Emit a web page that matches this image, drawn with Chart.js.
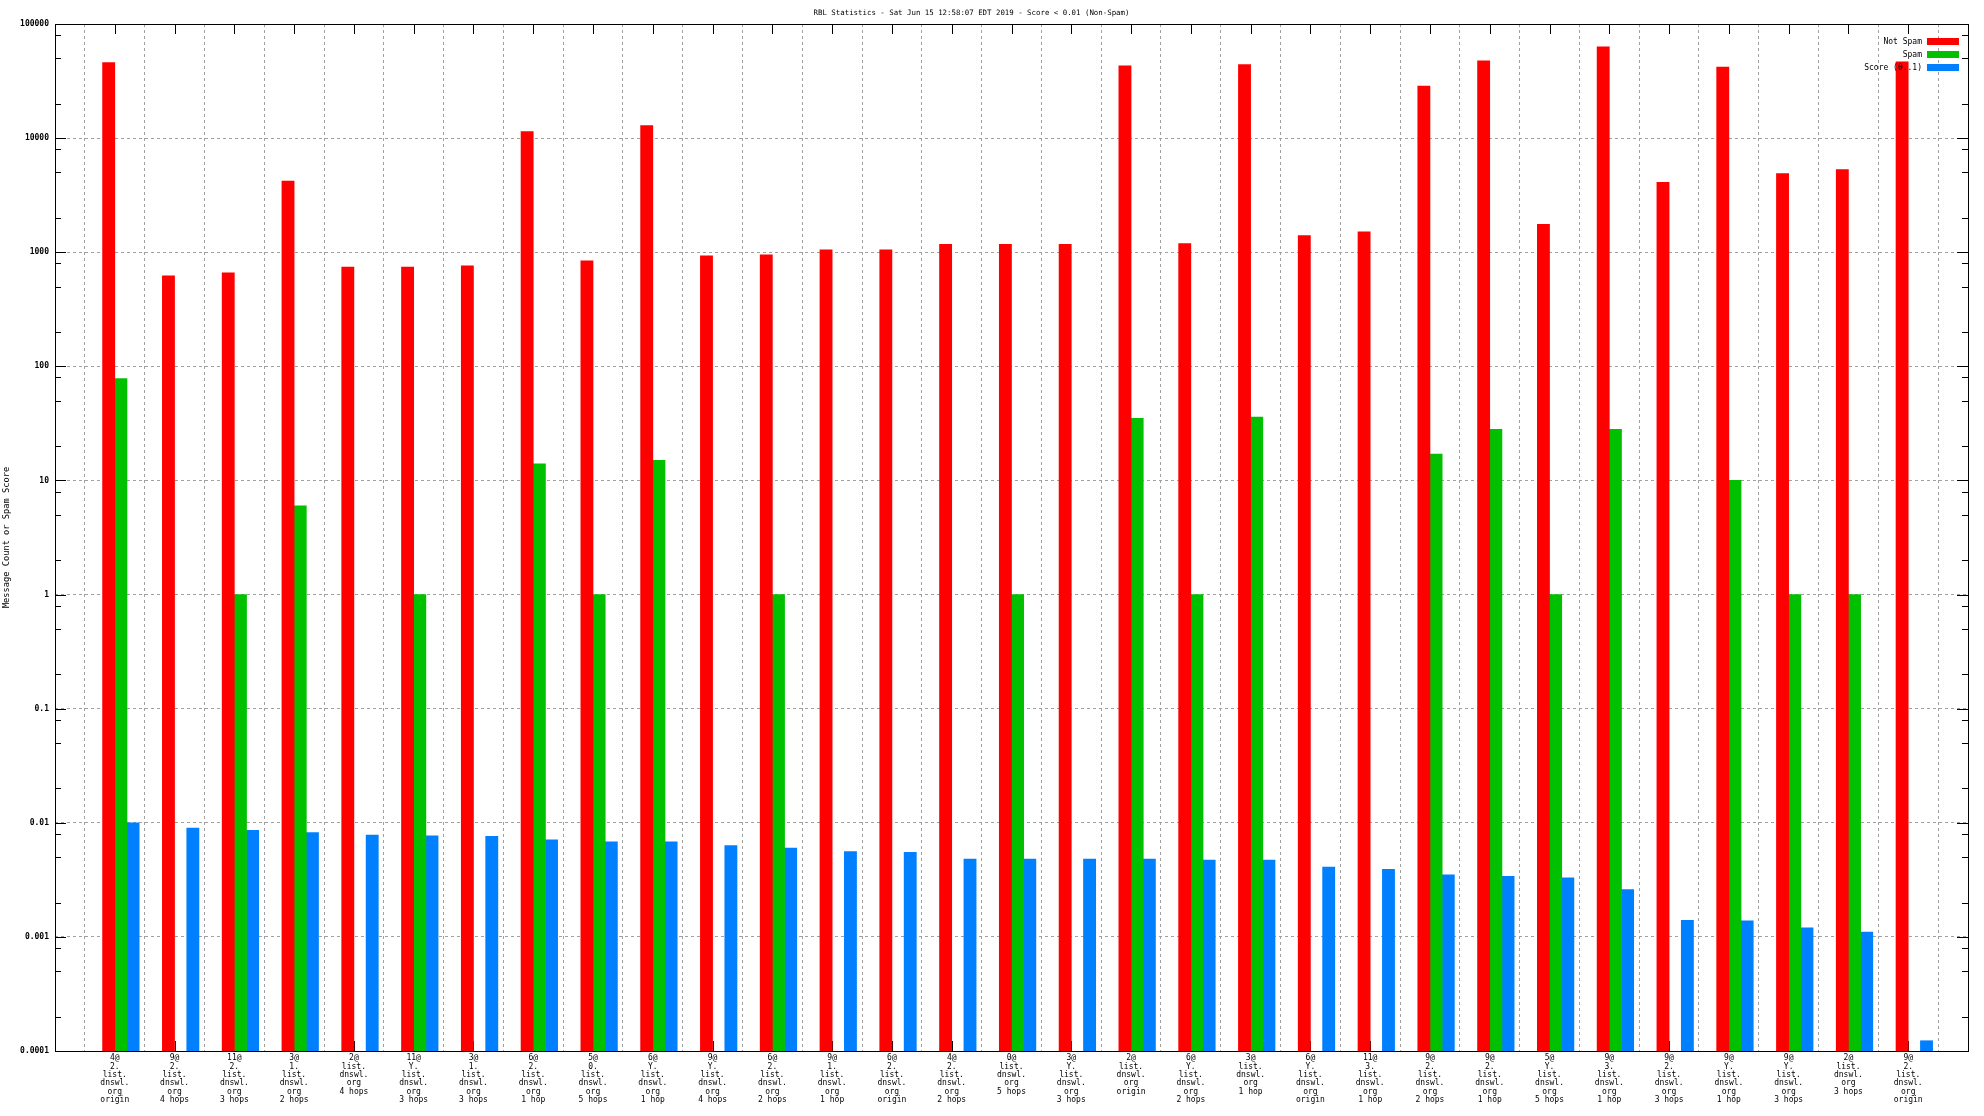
<!DOCTYPE html>
<html><head><meta charset="utf-8">
<script src="https://cdn.jsdelivr.net/npm/chart.js@4.4.1/dist/chart.umd.min.js"></script>
<style>html,body{margin:0;padding:0;background:#fff}canvas{display:block}</style>
</head><body>
<canvas id="c" width="1984" height="1116"></canvas>
<script>
// ---------- data ----------
const sources = ["4@2.list.dnswl.org","9@2.list.dnswl.org","11@2.list.dnswl.org","3@1.list.dnswl.org","2@list.dnswl.org","11@Y.list.dnswl.org","3@1.list.dnswl.org","6@2.list.dnswl.org","5@0.list.dnswl.org","6@Y.list.dnswl.org","9@Y.list.dnswl.org","6@2.list.dnswl.org","9@1.list.dnswl.org","6@2.list.dnswl.org","4@2.list.dnswl.org","0@list.dnswl.org","3@Y.list.dnswl.org","2@list.dnswl.org","6@Y.list.dnswl.org","3@list.dnswl.org","6@Y.list.dnswl.org","11@3.list.dnswl.org","9@2.list.dnswl.org","9@2.list.dnswl.org","5@Y.list.dnswl.org","9@3.list.dnswl.org","9@2.list.dnswl.org","9@Y.list.dnswl.org","9@Y.list.dnswl.org","2@list.dnswl.org","9@2.list.dnswl.org"];
const hops = ["origin","4 hops","3 hops","2 hops","4 hops","3 hops","3 hops","1 hop","5 hops","1 hop","4 hops","2 hops","1 hop","origin","2 hops","5 hops","3 hops","origin","2 hops","1 hop","origin","1 hop","2 hops","1 hop","5 hops","1 hop","3 hops","1 hop","3 hops","3 hops","origin"];
const notSpam = [46000,620,660,4200,740,740,760,11400,840,12900,930,950,1050,1050,1170,1170,1170,43000,1190,44000,1400,1510,28600,47600,1760,63000,4100,42000,4900,5300,46700];
const spam = [78,null,1,6,null,1,null,14,1,15,null,1,null,null,null,1,null,35,1,36,null,null,17,28,1,28,null,10,1,1,null];
const score = [0.0100,0.0090,0.0086,0.0082,0.0078,0.0077,0.0076,0.0071,0.0068,0.0068,0.0063,0.0060,0.0056,0.0055,0.0048,0.0048,0.0048,0.0048,0.0047,0.0047,0.0041,0.0039,0.0035,0.0034,0.0033,0.0026,0.0014,0.00138,0.0012,0.0011,0.000123];
const yTickLabels = ["0.0001","0.001","0.01","0.1","1","10","100","1000","10000","100000"];
const seriesNames = ["Not Spam","Spam","Score (0..1)"];
const seriesColors = ["#ff0000","#00c000","#0080ff"];
const chartTitle = "RBL Statistics - Sat Jun 15 12:58:07 EDT 2019 - Score < 0.01 (Non-Spam)";
const yTitle = "Message Count or Spam Score";

// ---------- presentation ----------
const FONT = "'DejaVu Sans Mono', 'Liberation Mono', monospace";
const SHIFT = 0.102;          // category tick sits at the first/second bar boundary
const labelLines = sources.map((s, i) =>
  s.replace(/([@.])/g, '$1\n').split('\n').filter(t => t).concat([hops[i]]));

const series = [notSpam, spam, score];
const datasets = series.map((vals, k) => ({
  label: seriesNames[k],
  backgroundColor: seriesColors[k],
  borderWidth: 0,
  barThickness: 12.2,
  data: vals.map((v, i) => ({x: i + 1, y: v}))
}));

const decor = {
  id: 'decor',
  beforeDatasetsDraw(chart) {
    const {ctx, chartArea: a, scales: {x, y}} = chart;
    ctx.save();
    ctx.strokeStyle = '#000';
    ctx.lineWidth = 1;
    ctx.beginPath();
    for (let k = -4; k <= 4; k++) {
      for (const m of [1, 2, 5, 8]) {
        const v = m * Math.pow(10, k);
        const py = Math.round(y.getPixelForValue(v)) + 0.5;
        const len = m === 1 ? 11 : 6;
        ctx.moveTo(a.left, py); ctx.lineTo(a.left + len, py);
        ctx.moveTo(a.right, py); ctx.lineTo(a.right - len, py);
      }
    }
    x.ticks.forEach(t => {
      const px = Math.round(x.getPixelForValue(t.value)) + 0.5;
      ctx.moveTo(px, a.top); ctx.lineTo(px, a.top + 10);
      ctx.moveTo(px, a.bottom); ctx.lineTo(px, a.bottom - 10);
    });
    ctx.stroke();
    ctx.restore();
  },
  afterDatasetsDraw(chart) {
    const {ctx, chartArea: a} = chart;
    ctx.save();
    ctx.strokeStyle = '#000';
    ctx.lineWidth = 1;
    ctx.strokeRect(Math.round(a.left) + 0.5, Math.round(a.top) + 0.5,
                   Math.round(a.right) - Math.round(a.left), Math.round(a.bottom) - Math.round(a.top));
    // legend (drawn inside the plot, as in the original)
    ctx.font = '8px ' + FONT;
    ctx.textAlign = 'right';
    ctx.textBaseline = 'middle';
    chart.data.datasets.forEach((ds, i) => {
      const yy = a.top + 17.5 + i * 13;
      ctx.fillStyle = '#000';
      ctx.fillText(ds.label, a.right - 46, yy);
      ctx.fillStyle = ds.backgroundColor;
      ctx.fillRect(Math.round(a.right - 41), Math.round(yy - 3.5), 32, 7);
    });
    // title
    ctx.font = '7.4px ' + FONT;
    ctx.fillStyle = '#000';
    ctx.textAlign = 'center';
    ctx.fillText(chartTitle, 971.5, 13.5);
    ctx.restore();
  }
};

new Chart(document.getElementById('c'), {
  type: 'bar',
  data: {datasets},
  plugins: [decor],
  options: {
    responsive: false,
    animation: false,
    devicePixelRatio: 1,
    layout: {padding: {top: 24, right: 16, left: 0, bottom: 0}},
    plugins: {legend: {display: false}, title: {display: false}, tooltip: {enabled: false}},
    scales: {
      x: {
        type: 'linear',
        min: -SHIFT,
        max: 32 - SHIFT,
        offset: false,
        afterBuildTicks: s => { s.ticks = labelLines.map((_, i) => ({value: i + 1 - SHIFT})); },
        afterFit: s => { s.height = 65; },
        grid: {color: '#a0a0a0', lineWidth: 1, drawTicks: false},
        border: {display: false, dash: [3, 3]},
        ticks: {
          autoSkip: false, maxRotation: 0, minRotation: 0, padding: 3,
          color: '#000',
          font: {family: FONT, size: 8, lineHeight: 1.04},
          callback: (v, i) => labelLines[i]
        }
      },
      y: {
        type: 'logarithmic',
        min: 1e-4,
        max: 1e5,
        afterBuildTicks: s => { s.ticks = yTickLabels.map(l => ({value: Number(l)})); },
        afterFit: s => { s.width = 55; },
        grid: {color: '#a0a0a0', lineWidth: 1, drawTicks: false},
        border: {display: false, dash: [3, 3]},
        ticks: {
          padding: 6, color: '#000',
          font: {family: FONT, size: 8, weight: 'bold'},
          callback: (v, i) => yTickLabels[i]
        },
        title: {
          display: true, text: yTitle, color: '#000',
          font: {family: FONT, size: 8.7},
          padding: {top: 2, bottom: 0}
        }
      }
    }
  }
});
</script>
</body></html>
